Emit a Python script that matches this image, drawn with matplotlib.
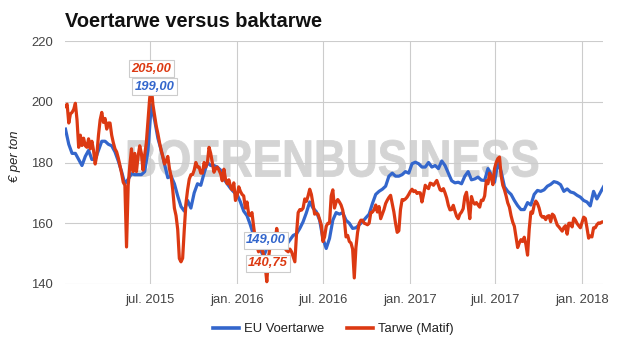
import pandas as pd
import matplotlib
matplotlib.use("Agg")
import matplotlib.pyplot as plt
import matplotlib.transforms as mtransforms
from matplotlib.textpath import TextPath
from matplotlib.patches import PathPatch
from matplotlib.font_manager import FontProperties

# EU feed wheat, weekly, EUR per ton
blue_dates = pd.date_range("2015-01-02", periods=164, freq="7D")
eu_voertarwe = [
    191, 186, 183, 183, 181, 179, 182, 184, 181, 181,
    184, 187, 187, 186, 185.5, 183.5, 180.5, 177, 173, 174.5,
    176.3, 176, 176, 176, 177, 184, 199, 194, 188, 184,
    179.5, 175, 175.5, 173, 169, 165.5, 164, 167.5, 165, 170,
    173, 172.5, 176.5, 180, 179, 179, 178.5, 177.5, 174.5, 173,
    171.5, 170.3, 169.5, 167, 164, 162.5, 159.5, 156, 152.5, 151.5,
    149, 151.7, 153.9, 152.8, 153.9, 152.8, 152.3, 153, 154.5, 156,
    156.5, 158.3, 160.5, 163.5, 167, 165, 163.8, 161, 155, 151.7,
    155, 161, 163.5, 163, 163.5, 161, 160, 158.3, 158.5, 159.5,
    160.5, 161.8, 163, 166.5, 169.5, 170.5, 171.2, 172.2, 175.5, 176.5,
    175.5, 175.5, 176, 177, 176.5, 179.6, 180.1, 179.6, 178.5, 178.5,
    180, 178.5, 179, 178, 180.5, 179, 176.5, 174, 173.3, 173.5,
    173, 175.5, 177, 174.3, 174.6, 175.2, 174.2, 174.1, 178, 176,
    173.5, 180.1, 177, 172, 170.5, 169.5, 167.5, 165.8, 164.5, 164.5,
    166.8, 166, 169.5, 170.8, 170.5, 171, 172.2, 172.8, 173.7, 173.4,
    172.7, 170.5, 171.3, 170.3, 170, 169.2, 168.6, 167.5, 167, 165.7,
    170.5, 168, 170, 172,
]

# Matif wheat, twice a week, EUR per ton
red_dates = pd.date_range("2015-01-02", periods=327, freq="84h")
tarwe_matif = [
    198.5, 199.2, 193, 196, 196.5, 197.5, 199.5, 194, 185, 189,
    185.6, 188, 185.5, 185, 187.8, 184.5, 187, 184, 179.5, 182.5,
    189, 194, 196.5, 193.2, 194.5, 191, 193, 193, 189, 186.5,
    184.5, 183.5, 181.5, 179, 176.5, 173.5, 172.5, 152.2, 172.5, 179,
    184.5, 177, 183, 177, 182, 185.5, 183, 177.5, 182.5, 186.5,
    194, 201, 205, 199, 195.5, 192, 189.5, 186.5, 184, 182,
    179.5, 180.5, 182, 178, 175.5, 171, 165, 162.5, 158, 148.4,
    147.3, 148.5, 158, 166.5, 171, 174.5, 176, 176, 177.5, 180,
    178.5, 178.5, 176.5, 176.5, 180, 178.5, 180, 185, 183, 180,
    176.8, 178, 178.5, 177.5, 176.3, 174, 177.8, 174.5, 173, 174.3,
    172, 171, 173.3, 167.5, 169, 172, 170.5, 169.5, 169, 165,
    167, 163, 162.5, 163.5, 159, 155, 152.5, 150.6, 153, 152,
    149.5, 146, 140.75, 148.5, 152.5, 155.5, 156.5, 154, 158.3, 155,
    153, 153.9, 153, 151.7, 151, 150.6, 151.5, 150.6, 149, 147.3,
    156.5, 163.5, 164.5, 164.3, 165, 168, 167.2, 169, 171.2, 169.5,
    166.3, 163, 163.3, 163, 161.2, 159.5, 154, 155.5, 159, 160,
    160, 169, 171, 165, 167, 167.8, 167, 166, 164.3, 161,
    155.5, 156, 154, 153.5, 151.5, 142, 152, 157, 160, 161,
    161, 160, 159.8, 159.5, 160, 163.5, 163.7, 164.5, 166, 163.7,
    165.5, 161.5, 163, 164.5, 166.5, 167.6, 168.5, 169.2, 166.5, 163.7,
    160, 157, 157.5, 164.5, 167.8, 167.6, 168, 168.6, 169.5, 170.5,
    171.2, 170.4, 170.7, 169.8, 170.1, 170, 167, 169.5, 172.5, 171.8,
    171.4, 173.2, 173, 172.5, 173.3, 174.1, 172.5, 171, 170.7, 171.4,
    170, 168.3, 165.9, 164.4, 164.5, 165.9, 164, 162.3, 161.5, 163,
    163.7, 164.8, 168.8, 170.2, 166, 161.5, 168.8, 167, 166.3, 166.8,
    166, 165.3, 167.6, 167.5, 169, 174, 173, 176.5, 175, 172.7,
    178, 180, 181.3, 181.8, 175.6, 172.5, 171, 169, 166.7, 165.3,
    162.5, 160.4, 159, 155.5, 152, 153.5, 154.6, 154, 155.4, 153,
    149.5, 158, 163.7, 163.3, 166, 167.3, 166.5, 165, 162.7, 162,
    162.2, 161.2, 162.3, 162.5, 160.5, 163, 162.5, 161, 159.4, 158.8,
    158.1, 157.4, 158.6, 159.2, 156.4, 160, 160, 158.8, 161.7, 161,
    159.9, 159.2, 158.5, 160.2, 162, 161.6, 158.5, 155.1, 155.8, 155.5,
    158.5, 158.5, 159.5, 160.1, 160, 160.4, 160.5,
]

tick_dates = ["2015-07-01", "2016-01-01", "2016-07-01", "2017-01-01",
              "2017-07-01", "2018-01-01"]
tick_labels = ["jul. 2015", "jan. 2016", "jul. 2016", "jan. 2017",
               "jul. 2017", "jan. 2018"]
y_ticks = [140, 160, 180, 200, 220]

BLUE = "#3366cc"
RED = "#dc3912"
FONT = "Liberation Sans"

plt.rcParams["font.family"] = [FONT, "DejaVu Sans"]

fig = plt.figure(figsize=(6.25, 3.55), dpi=100)
ax = fig.add_axes([65 / 625, 71 / 355, 538 / 625, 243 / 355])
ax.set_axisbelow(True)

# watermark behind the lines
tp = TextPath((0, 0), "BOERENBUSINESS", size=1,
              prop=FontProperties(family=FONT, weight="bold"))
bb = tp.get_extents()
tr = (mtransforms.Affine2D()
      .translate(-bb.x0, -bb.y0)
      .scale(4.10 / bb.width, 0.37 / bb.height)
      .translate(1.28, 1.78) + fig.dpi_scale_trans)
ax.add_patch(PathPatch(tp, transform=tr, facecolor="#d4d4d4",
                       edgecolor="#d4d4d4", lw=0.6, zorder=0.4))

ax.plot(blue_dates, eu_voertarwe, color=BLUE, lw=2.3, zorder=2,
        label="EU Voertarwe", solid_joinstyle="round")
ax.plot(red_dates, tarwe_matif, color=RED, lw=2.3, zorder=3,
        label="Tarwe (Matif)", solid_joinstyle="round")

ax.set_xlim(pd.Timestamp("2015-01-01"), pd.Timestamp("2018-02-15"))
ax.set_ylim(140, 220)
ax.set_yticks(y_ticks)
ax.set_yticklabels([str(v) for v in y_ticks])
ax.set_xticks(pd.to_datetime(tick_dates))
ax.set_xticklabels(tick_labels)
ax.tick_params(axis="both", length=0, labelsize=9.4, colors="#444444")
ax.tick_params(axis="y", pad=8.5)
ax.tick_params(axis="x", pad=7)
ax.grid(True, color="#cccccc", lw=0.8)
for s in ax.spines.values():
    s.set_visible(False)


def fmt(v):
    return f"{v:.2f}".replace(".", ",")


def flag(i, dates, series, color, dx, dy):
    ax.annotate(fmt(series[i]), xy=(dates[i], series[i]), xytext=(dx, dy),
                textcoords="offset pixels", ha="center", va="center",
                fontsize=9.4, fontweight="bold", fontstyle="italic",
                color=color, zorder=5,
                bbox=dict(boxstyle="square,pad=0.18", fc="white",
                          ec="#cccccc", lw=0.8))


flag(52, red_dates, tarwe_matif, RED, 0, 18)
flag(26, blue_dates, eu_voertarwe, BLUE, 3, 18)
flag(60, blue_dates, eu_voertarwe, BLUE, 2.5, 16.5)
flag(122, red_dates, tarwe_matif, RED, 1, 18.5)

fig.text(65 / 625, (355 - 27) / 355, "Voertarwe versus baktarwe",
         fontsize=14.4, fontweight="bold", va="baseline", ha="left",
         color="#111111")
fig.text(15 / 625, (355 - 156) / 355, "€ per ton", rotation=90,
         fontsize=9.4, fontstyle="italic", ha="center", va="center",
         color="#222222")

fig.legend(loc="center", bbox_to_anchor=(333.5 / 625, (355 - 329) / 355),
           ncol=2, frameon=False, fontsize=9.4, handlelength=2.0,
           handletextpad=0.4, columnspacing=1.7, labelcolor="#222222")
for line in fig.legends[0].get_lines():
    line.set_linewidth(2.6)

fig.savefig("out.png", dpi=100)
